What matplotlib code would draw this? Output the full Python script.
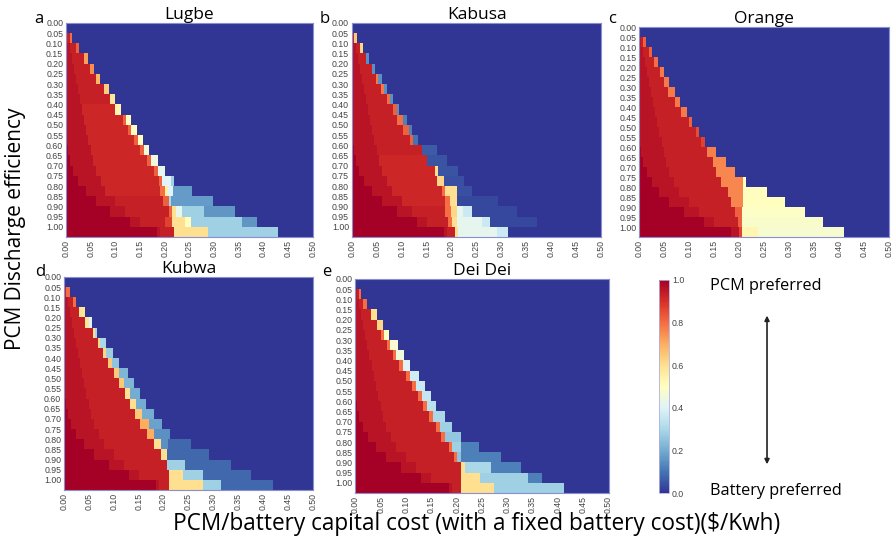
import numpy as np
import matplotlib.pyplot as plt

eff_labels = ['0.00', '0.05', '0.10', '0.15', '0.20', '0.25', '0.30', '0.35', '0.40', '0.45', '0.50',
              '0.55', '0.60', '0.65', '0.70', '0.75', '0.80', '0.85', '0.90', '0.95', '1.00']
cost_labels = ['0.00', '0.05', '0.10', '0.15', '0.20', '0.25', '0.30', '0.35', '0.40', '0.45', '0.50']
cbar_ticks = [0.0, 0.2, 0.4, 0.6, 0.8, 1.0]
sites = ['Lugbe', 'Kabusa', 'Orange', 'Kubwa', 'Dei Dei']
letters = ['a', 'b', 'c', 'd', 'e']

# darkest red part at the left of each row, then a slightly lighter red
dark_end = [0, 0, 0, 0, 0, 0, 0, 0, 0, 0, 0, 0, 0.004, 0.008, 0.015, 0.025, 0.04, 0.06, 0.09, 0.13, 0.185]
mid_end = [0, 0.003, 0.008, 0.012, 0.016, 0.02, 0.024, 0.028, 0.032, 0.036, 0.04, 0.045, 0.05,
           0.055, 0.06, 0.07, 0.08, 0.1, 0.12, 0.15, 0.19]

# per row: (right edge of segment, value); everything after the last segment is 0
lugbe = [
    [],
    [(0.008, 0.93), (0.012, 0.8)],
    [(0.02, 0.93), (0.027, 0.82)],
    [(0.036, 0.93), (0.044, 0.72)],
    [(0.048, 0.93), (0.057, 0.75)],
    [(0.06, 0.93), (0.069, 0.68)],
    [(0.077, 0.93), (0.087, 0.64)],
    [(0.09, 0.93), (0.1, 0.58)],
    [(0.1, 0.92), (0.112, 0.53)],
    [(0.115, 0.92), (0.122, 0.82), (0.131, 0.5)],
    [(0.125, 0.92), (0.132, 0.82), (0.144, 0.5)],
    [(0.138, 0.92), (0.145, 0.82), (0.156, 0.5)],
    [(0.15, 0.92), (0.157, 0.82), (0.169, 0.46)],
    [(0.165, 0.92), (0.172, 0.82), (0.187, 0.45)],
    [(0.178, 0.92), (0.186, 0.82), (0.201, 0.42)],
    [(0.188, 0.92), (0.194, 0.82), (0.213, 0.4), (0.218, 0.28)],
    [(0.191, 0.92), (0.2, 0.8), (0.206, 0.55), (0.216, 0.4), (0.255, 0.17)],
    [(0.196, 0.93), (0.208, 0.82), (0.212, 0.3), (0.298, 0.17)],
    [(0.208, 0.93), (0.215, 0.82), (0.222, 0.6), (0.235, 0.42), (0.28, 0.28), (0.342, 0.16)],
    [(0.2, 0.93), (0.215, 0.87), (0.24, 0.6), (0.254, 0.5), (0.356, 0.28), (0.387, 0.16)],
    [(0.218, 0.93), (0.287, 0.6), (0.43, 0.28)],
]

kabusa = [
    [],
    [(0.005, 0.93), (0.01, 0.65)],
    [(0.017, 0.93), (0.023, 0.62)],
    [(0.029, 0.93), (0.035, 0.15)],
    [(0.04, 0.93), (0.047, 0.15)],
    [(0.048, 0.93), (0.053, 0.78), (0.06, 0.15)],
    [(0.059, 0.93), (0.065, 0.78), (0.07, 0.15)],
    [(0.07, 0.93), (0.077, 0.8), (0.083, 0.15)],
    [(0.083, 0.93), (0.09, 0.82), (0.095, 0.15)],
    [(0.091, 0.93), (0.102, 0.8), (0.11, 0.12)],
    [(0.103, 0.93), (0.115, 0.82), (0.12, 0.12)],
    [(0.117, 0.93), (0.122, 0.82), (0.133, 0.1)],
    [(0.14, 0.93), (0.17, 0.06)],
    [(0.15, 0.92), (0.19, 0.05)],
    [(0.167, 0.92), (0.173, 0.6), (0.213, 0.05)],
    [(0.17, 0.92), (0.185, 0.62), (0.225, 0.04)],
    [(0.18, 0.92), (0.186, 0.8), (0.21, 0.6), (0.24, 0.04)],
    [(0.186, 0.92), (0.196, 0.8), (0.21, 0.6), (0.293, 0.03)],
    [(0.186, 0.93), (0.198, 0.8), (0.21, 0.62), (0.223, 0.42), (0.24, 0.36), (0.33, 0.03)],
    [(0.193, 0.93), (0.2, 0.8), (0.21, 0.6), (0.26, 0.42), (0.277, 0.36), (0.37, 0.03)],
    [(0.207, 0.93), (0.213, 0.6), (0.29, 0.42), (0.313, 0.36)],
]

orange = [
    [],
    [(0.007, 0.93), (0.014, 0.82)],
    [(0.019, 0.93), (0.025, 0.82)],
    [(0.03, 0.93), (0.037, 0.8)],
    [(0.041, 0.93), (0.05, 0.78)],
    [(0.05, 0.93), (0.06, 0.78)],
    [(0.059, 0.93), (0.072, 0.78)],
    [(0.072, 0.93), (0.083, 0.78)],
    [(0.085, 0.93), (0.097, 0.78)],
    [(0.1, 0.93), (0.107, 0.82)],
    [(0.115, 0.93), (0.12, 0.85)],
    [(0.125, 0.93), (0.132, 0.87)],
    [(0.136, 0.93), (0.155, 0.77)],
    [(0.148, 0.93), (0.174, 0.76)],
    [(0.155, 0.93), (0.192, 0.76)],
    [(0.165, 0.93), (0.208, 0.76), (0.215, 0.5)],
    [(0.178, 0.93), (0.208, 0.76), (0.256, 0.5)],
    [(0.185, 0.93), (0.208, 0.76), (0.293, 0.5)],
    [(0.192, 0.93), (0.207, 0.82), (0.333, 0.49)],
    [(0.198, 0.93), (0.207, 0.82), (0.368, 0.48)],
    [(0.2, 0.96), (0.207, 0.87), (0.238, 0.53), (0.411, 0.47)],
]

kubwa = [
    [],
    [(0.005, 0.93), (0.012, 0.8)],
    [(0.019, 0.93), (0.024, 0.8)],
    [(0.031, 0.93), (0.042, 0.58)],
    [(0.042, 0.93), (0.051, 0.58), (0.056, 0.4)],
    [(0.058, 0.93), (0.0625, 0.6), (0.067, 0.3)],
    [(0.068, 0.93), (0.073, 0.62), (0.085, 0.3)],
    [(0.079, 0.93), (0.085, 0.62), (0.098, 0.27)],
    [(0.089, 0.93), (0.096, 0.65), (0.11, 0.25)],
    [(0.1, 0.93), (0.11, 0.65), (0.128, 0.22)],
    [(0.11, 0.93), (0.121, 0.65), (0.141, 0.22)],
    [(0.123, 0.93), (0.133, 0.6), (0.152, 0.2)],
    [(0.133, 0.93), (0.145, 0.6), (0.165, 0.2)],
    [(0.143, 0.93), (0.157, 0.65), (0.181, 0.2)],
    [(0.153, 0.93), (0.17, 0.7), (0.196, 0.18)],
    [(0.167, 0.93), (0.181, 0.7), (0.214, 0.15)],
    [(0.18, 0.93), (0.194, 0.6), (0.21, 0.15), (0.255, 0.08)],
    [(0.194, 0.93), (0.207, 0.6), (0.292, 0.08)],
    [(0.207, 0.93), (0.244, 0.28), (0.335, 0.08)],
    [(0.212, 0.93), (0.239, 0.6), (0.28, 0.28), (0.376, 0.08)],
    [(0.212, 0.93), (0.28, 0.6), (0.316, 0.28), (0.42, 0.08)],
]

deidei = [
    [],
    [(0.007, 0.93), (0.011, 0.8)],
    [(0.016, 0.93), (0.023, 0.8)],
    [(0.03, 0.93), (0.042, 0.6)],
    [(0.042, 0.93), (0.054, 0.62)],
    [(0.05, 0.93), (0.057, 0.8), (0.066, 0.5)],
    [(0.062, 0.93), (0.069, 0.8), (0.084, 0.47)],
    [(0.074, 0.93), (0.081, 0.8), (0.096, 0.45)],
    [(0.087, 0.93), (0.094, 0.8), (0.108, 0.4)],
    [(0.1, 0.93), (0.108, 0.8), (0.125, 0.37)],
    [(0.111, 0.93), (0.119, 0.8), (0.137, 0.36)],
    [(0.124, 0.93), (0.132, 0.8), (0.15, 0.35)],
    [(0.134, 0.93), (0.142, 0.8), (0.16, 0.33)],
    [(0.146, 0.93), (0.154, 0.8), (0.178, 0.3)],
    [(0.16, 0.93), (0.168, 0.8), (0.191, 0.28)],
    [(0.17, 0.93), (0.178, 0.8), (0.208, 0.26)],
    [(0.185, 0.93), (0.191, 0.8), (0.208, 0.28), (0.244, 0.12)],
    [(0.195, 0.93), (0.201, 0.8), (0.208, 0.25), (0.287, 0.12)],
    [(0.208, 0.93), (0.216, 0.6), (0.267, 0.3), (0.328, 0.12)],
    [(0.209, 0.93), (0.247, 0.6), (0.34, 0.28), (0.369, 0.12)],
    [(0.209, 0.93), (0.274, 0.6), (0.411, 0.28)],
]

panels = [lugbe, kabusa, orange, kubwa, deidei]


def build_grid(rows, xc):
    z = np.zeros((len(rows), len(xc)))
    for r, segs in enumerate(rows):
        if not segs:
            continue
        for j, x in enumerate(xc):
            if x < segs[0][0] and x < dark_end[r]:
                z[r, j] = 1.0
            elif x < segs[0][0] and x < mid_end[r]:
                z[r, j] = 0.96
            else:
                for xe, v in segs:
                    if x < xe:
                        z[r, j] = v
                        break
    return z


effs = [float(s) for s in eff_labels]
costs = [float(s) for s in cost_labels]
x_edges = np.linspace(costs[0], costs[-1], 501)
x_mid = (x_edges[:-1] + x_edges[1:]) / 2
y_edges = effs + [effs[-1] + (effs[1] - effs[0])]

fig = plt.figure(figsize=(8.95, 5.45), dpi=100)

rects = [
    [0.0737, 0.565, 0.276, 0.393],
    [0.393, 0.565, 0.279, 0.393],
    [0.714, 0.565, 0.279, 0.385],
    [0.0715, 0.101, 0.278, 0.391],
    [0.397, 0.0954, 0.283, 0.393],
]
letter_pos = [(0.043, 0.965), (0.363, 0.965), (0.684, 0.965), (0.045, 0.5), (0.365, 0.5)]

mesh = None
for i, rows in enumerate(panels):
    ax = fig.add_axes(rects[i])
    z = build_grid(rows, x_mid)
    mesh = ax.pcolormesh(x_edges, y_edges, z, cmap='RdYlBu_r', vmin=0, vmax=1,
                         shading='flat', rasterized=True)
    ax.set_xlim(costs[0], costs[-1])
    ax.set_ylim(y_edges[-1], y_edges[0])
    ax.set_xticks(costs)
    ax.set_xticklabels(cost_labels, rotation=90, fontsize=6.3, color='#444444',
                       family='Liberation Sans')
    ax.set_yticks(effs)
    ax.set_yticklabels(eff_labels, fontsize=6.3, color='#444444', family='Liberation Sans')
    ax.tick_params(length=0, pad=2)
    for s in ax.spines.values():
        s.set_color('#8a8fcf')
        s.set_linewidth(0.8)
    ax.set_title(sites[i], fontsize=12.5, family='Open Sans', pad=2)
    fig.text(letter_pos[i][0], letter_pos[i][1], letters[i], fontsize=12,
             family='Open Sans', va='center', ha='center')

cax = fig.add_axes([0.736, 0.0954, 0.0115, 0.391])
cb = fig.colorbar(mesh, cax=cax, ticks=cbar_ticks)
cb.ax.set_yticklabels([f'{t:.1f}' for t in cbar_ticks], fontsize=6.3, color='#444444',
                      family='Liberation Sans')
cb.ax.tick_params(length=0, pad=2)
cb.outline.set_edgecolor('#b0b0e0')
cb.outline.set_linewidth(0.6)

fig.text(0.793, 0.476, 'PCM preferred', fontsize=11.7, family='Open Sans', va='center', ha='left')
fig.text(0.793, 0.099, 'Battery preferred', fontsize=11.7, family='Open Sans', va='center', ha='left')
fig.add_artist(plt.matplotlib.patches.FancyArrowPatch(
    (0.857, 0.426), (0.857, 0.143), transform=fig.transFigure,
    arrowstyle='<|-|>', mutation_scale=7, color='#222222', linewidth=1.2))

fig.text(0.017, 0.58, 'PCM Discharge efficiency', rotation=90, fontsize=15,
         family='Open Sans', va='center', ha='center')
fig.text(0.532, 0.038, 'PCM/battery capital cost (with a fixed battery cost)($/Kwh)',
         fontsize=16.3, family='Open Sans', va='center', ha='center')

fig.savefig('out.png', dpi=100)
